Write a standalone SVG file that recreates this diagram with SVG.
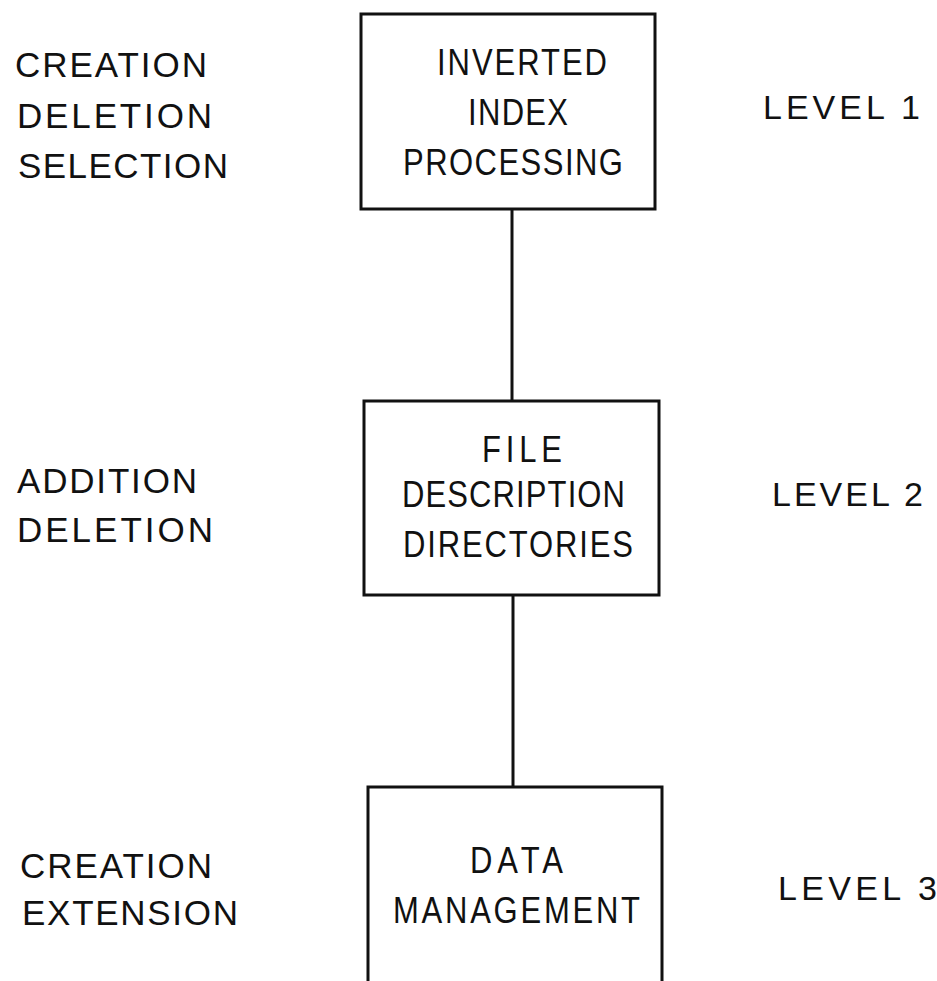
<svg xmlns="http://www.w3.org/2000/svg" width="937" height="981" viewBox="0 0 937 981">
<style>
.box{fill:none;stroke:#111;stroke-width:3}
.con{stroke:#111;stroke-width:3;fill:none}
text{font-family:"Liberation Sans",Arial,sans-serif;fill:#111}
.bt{font-size:31px}
.lt{font-size:35px}
.rt{font-size:34px}
</style>
<rect width="937" height="981" fill="#fff"/>
<g id="connectors">
<line class="con" x1="512" y1="210" x2="512" y2="401"/>
<line class="con" x1="513" y1="595" x2="513" y2="787"/>
</g>
<g id="node-level1">
<rect class="box" x="361" y="14" width="294" height="195"/>
<g transform="translate(437,75) scale(1,1.2)"><text class="bt" textLength="170" lengthAdjust="spacing">INVERTED</text></g>
<g transform="translate(468,125) scale(1,1.2)"><text class="bt" textLength="100" lengthAdjust="spacing">INDEX</text></g>
<g transform="translate(403,175) scale(1,1.2)"><text class="bt" textLength="220" lengthAdjust="spacing">PROCESSING</text></g>
</g>
<g id="node-level2">
<rect class="box" x="364" y="401" width="295" height="194"/>
<g transform="translate(482,462) scale(1,1.2)"><text class="bt" textLength="80" lengthAdjust="spacing">FILE</text></g>
<g transform="translate(402,507) scale(1,1.2)"><text class="bt" textLength="223" lengthAdjust="spacing">DESCRIPTION</text></g>
<g transform="translate(403,557) scale(1,1.2)"><text class="bt" textLength="230" lengthAdjust="spacing">DIRECTORIES</text></g>
</g>
<g id="node-level3">
<path class="box" d="M368,981 V787 H662 V981"/>
<g transform="translate(470,873) scale(1,1.2)"><text class="bt" textLength="93" lengthAdjust="spacing">DATA</text></g>
<g transform="translate(393,923) scale(1,1.2)"><text class="bt" textLength="247" lengthAdjust="spacing">MANAGEMENT</text></g>
</g>
<g id="left-labels">
<text class="lt" x="15" y="77" textLength="192" lengthAdjust="spacing">CREATION</text>
<text class="lt" x="17" y="128" textLength="195" lengthAdjust="spacing">DELETION</text>
<text class="lt" x="18" y="178" textLength="210" lengthAdjust="spacing">SELECTION</text>
<text class="lt" x="17" y="493" textLength="180" lengthAdjust="spacing">ADDITION</text>
<text class="lt" x="17" y="542" textLength="196" lengthAdjust="spacing">DELETION</text>
<text class="lt" x="20" y="878" textLength="192" lengthAdjust="spacing">CREATION</text>
<text class="lt" x="22" y="925" textLength="216" lengthAdjust="spacing">EXTENSION</text>
</g>
<g id="right-labels">
<text class="rt" x="763" y="119" textLength="157" lengthAdjust="spacing">LEVEL 1</text>
<text class="rt" x="772" y="506" textLength="151" lengthAdjust="spacing">LEVEL 2</text>
<text class="rt" x="778" y="900" textLength="159" lengthAdjust="spacing">LEVEL 3</text>
</g>
</svg>
